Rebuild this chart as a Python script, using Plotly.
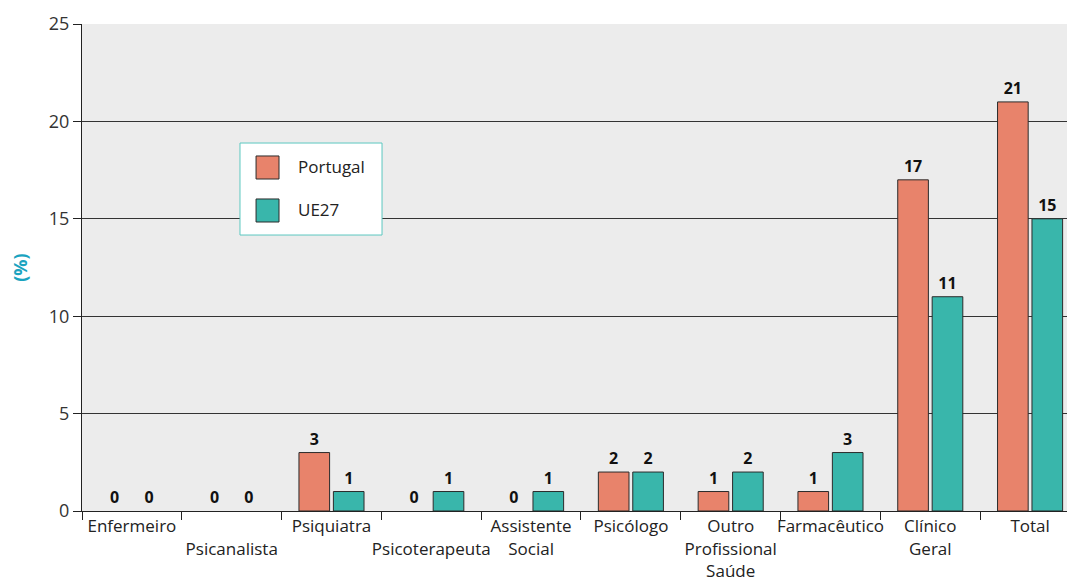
import plotly.graph_objects as go

categories = ["Enfermeiro", "<br>Psicanalista", "Psiquiatra", "<br>Psicoterapeuta",
              "Assistente<br>Social", "Psicólogo", "Outro<br>Profissional<br>Saúde",
              "Farmacêutico", "Clínico<br>Geral", "Total"]
portugal = [0, 0, 3, 0, 0, 2, 1, 1, 17, 21]
ue27 = [0, 0, 1, 1, 1, 2, 2, 3, 11, 15]
y_ticks = [0, 5, 10, 15, 20, 25]
series_names = ["Portugal", "UE27"]

PT_COLOR = "#E8836B"
EU_COLOR = "#39B6AB"
FONT = "Open Sans"
colors = [PT_COLOR, EU_COLOR]

fig = go.Figure()
for name, vals, col in zip(series_names, [portugal, ue27], colors):
    fig.add_trace(go.Bar(
        x=categories, y=vals, name=name,
        marker=dict(color=col, line=dict(color="#2b2b2b", width=[0 if v == 0 else 1 for v in vals])),
        text=[str(v) for v in vals], textposition="outside", cliponaxis=False,
        textfont=dict(family=FONT, size=16, color="#111111", weight="bold"),
        showlegend=False,
    ))

# Custom legend (box + swatches + labels) in paper coordinates
shapes = [dict(type="rect", xref="paper", yref="paper", x0=0.1604, x1=0.3046, y0=0.5667, y1=0.7556,
               fillcolor="white", line=dict(color="#5cc8c0", width=1), layer="above")]
annotations = []
sw = [(0.7290, 0.6817, 0.7064), (0.6407, 0.5934, 0.6181)]
for (y1, y0, yt), name, col in zip(sw, series_names, colors):
    shapes.append(dict(type="rect", xref="paper", yref="paper", x0=0.1767, x1=0.2, y0=y0, y1=y1,
                       fillcolor=col, line=dict(color="#2b2b2b", width=1), layer="above"))
    annotations.append(dict(xref="paper", yref="paper", x=0.2173, y=yt, xanchor="left", yanchor="middle",
                            text=name, showarrow=False, font=dict(family=FONT, size=17, color="#222222")))

fig.update_layout(
    width=1067, height=581,
    margin=dict(l=82, r=0, t=24, b=70),
    paper_bgcolor="white", plot_bgcolor="#ececec",
    barmode="group", bargap=0.31, bargroupgap=0.11,
    font=dict(family=FONT, size=17, color="#222222"),
    showlegend=False,
    shapes=shapes, annotations=annotations,
    xaxis=dict(
        type="category", range=[-0.5, 9.37], tickson="boundaries",
        ticks="outside", ticklen=8, tickcolor="#222222", tickangle=0, automargin=False,
        showline=True, linecolor="#222222", linewidth=1,
        showgrid=False, tickfont=dict(family=FONT, size=17, color="#222222"),
    ),
    yaxis=dict(
        range=[0, 25], tickvals=y_ticks, ticks="outside", ticklen=8, automargin=False,
        tickcolor="#222222", showline=True, linecolor="#222222", linewidth=1,
        showgrid=True, gridcolor="#333333", gridwidth=1, zeroline=False,
        tickfont=dict(family=FONT, size=18, color="#333333"),
        title=dict(text="<b>(%)</b>", font=dict(family=FONT, size=18, color="#1aa3bf"), standoff=16),
    ),
)

fig.write_html("out.html")
